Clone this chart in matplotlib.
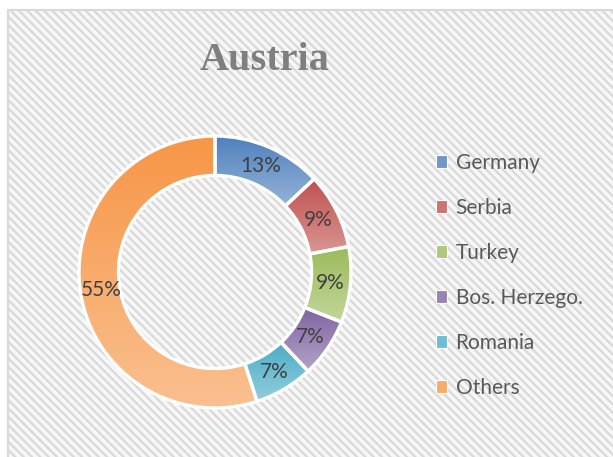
import numpy as np
import matplotlib
matplotlib.use('Agg')
import matplotlib.pyplot as plt
from matplotlib.patches import Rectangle, Patch
from matplotlib.colors import LinearSegmentedColormap

plt.rcParams['hatch.color'] = '#E0E0E0'
plt.rcParams['hatch.linewidth'] = 1.6

title = 'Austria'
countries = ['Germany', 'Serbia', 'Turkey', 'Bos. Herzego.', 'Romania', 'Others']
shares = [13, 9, 9, 7, 7, 55]
top_colors = ['#4F81BD', '#C0504D', '#9BBB59', '#8064A2', '#4BACC6', '#F79646']
bottom_colors = ['#95B3D7', '#D99694', '#C3D69B', '#B3A2C7', '#93CDDD', '#FAC090']
mid_colors = ['#7396C8', '#CD7370', '#AFC87A', '#9A83B5', '#6FBDD2', '#F8AB6B']

W, H = 613, 457
fig = plt.figure(figsize=(W / 100, H / 100), dpi=100)
fig.patch.set_facecolor('white')

# striped chart area with light border
bg = Rectangle((7.5 / W, -0.05), 1.1, 1 - 9.5 / H + 0.05, transform=fig.transFigure,
               facecolor='#F7F7F7', edgecolor='#D9D9D9', linewidth=1.5,
               hatch='\\\\\\\\', zorder=-5)
fig.patches.append(bg)

# donut
cx, cy, r = 215, H - 272, 136
ax = fig.add_axes([(cx - r) / W, (cy - r) / H, 2 * r / W, 2 * r / H])
ax.set_zorder(2)
ax.set_facecolor('none')
wedges, texts, autotexts = ax.pie(shares, startangle=90, counterclock=False,
                                  autopct='%d%%', pctdistance=0.85, radius=1,
                                  wedgeprops=dict(width=0.29, edgecolor='white', linewidth=2.4),
                                  textprops=dict(color='#404040', fontsize=15, family='Lato'))
grad = np.linspace(0, 1, 256).reshape(-1, 1)
for w, c0, c1 in zip(wedges, top_colors, bottom_colors):
    ext = w.get_path().get_extents()
    cmap = LinearSegmentedColormap.from_list('g', [c0, c1])
    im = ax.imshow(grad, cmap=cmap, extent=(ext.x0, ext.x1, ext.y0, ext.y1),
                   origin='upper', aspect='auto', zorder=1)
    im.set_clip_path(w)
    w.set_facecolor('none')
    w.set_zorder(2)
for t in autotexts:
    t.set_zorder(3)
ax.set_xlim(-1.0, 1.0)
ax.set_ylim(-1.0, 1.0)
ax.axis('off')

# title
fig.text(265 / W, 1 - 70 / H, title, ha='center', va='baseline',
         fontsize=29, fontweight='bold', family='Liberation Serif', color='#7F7F7F')

# legend
handles = [Patch(facecolor=c, edgecolor='white', linewidth=0.8) for c in mid_colors]
leg = fig.legend(handles, countries, loc='upper left', bbox_to_anchor=(417 / W, 1 - 134 / H),
                 frameon=False, prop=dict(family='Lato', size=15), labelcolor='#595959',
                 handlelength=0.55, handleheight=0.55, handletextpad=0.4, labelspacing=1.2)
leg.set_zorder(3)

fig.savefig('out.png', dpi=100, facecolor='white')
